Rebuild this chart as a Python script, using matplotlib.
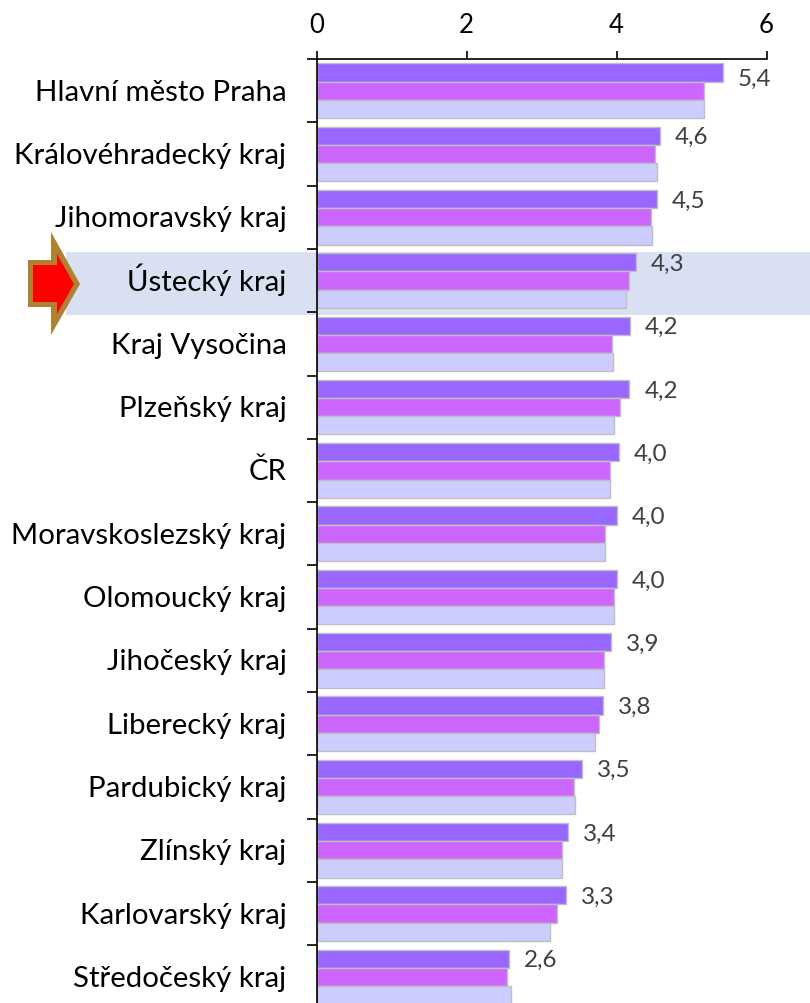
import matplotlib
matplotlib.use("Agg")
import matplotlib.pyplot as plt
import numpy as np
from matplotlib.patches import Polygon, Rectangle

W, H = 810, 1004
regions = ["Hlavní město Praha", "Královéhradecký kraj", "Jihomoravský kraj", "Ústecký kraj",
           "Kraj Vysočina", "Plzeňský kraj", "ČR", "Moravskoslezský kraj", "Olomoucký kraj",
           "Jihočeský kraj", "Liberecký kraj", "Pardubický kraj", "Zlínský kraj",
           "Karlovarský kraj", "Středočeský kraj"]
s1 = [5.42, 4.58, 4.54, 4.26, 4.18, 4.17, 4.03, 4.00, 4.00, 3.93, 3.82, 3.54, 3.35, 3.33, 2.57]
s2 = [5.17, 4.51, 4.46, 4.17, 3.94, 4.05, 3.91, 3.85, 3.97, 3.83, 3.76, 3.43, 3.27, 3.21, 2.54]
s3 = [5.17, 4.54, 4.47, 4.13, 3.95, 3.97, 3.91, 3.85, 3.97, 3.83, 3.71, 3.45, 3.27, 3.11, 2.59]
labels = ["5,4", "4,6", "4,5", "4,3", "4,2", "4,2", "4,0", "4,0", "4,0", "3,9", "3,8", "3,5", "3,4", "3,3", "2,6"]
xticks = [0, 2, 4, 6]

plt.rcParams["font.family"] = ["Lato", "DejaVu Sans"]
fig = plt.figure(figsize=(W / 100, H / 100), dpi=100)

def px(x, y):
    return x / W, 1 - y / H

# highlight band + arrow live on the figure, in pixels
fig.add_artist(Rectangle(px(66, 316), 744 / W, 63 / H, transform=fig.transFigure,
                         fc="#D9E0F1", ec="none", zorder=0))
outer = [(28, 261), (51, 261), (51, 233), (80, 285), (51, 336), (51, 308), (28, 308)]
inner = [(33, 266), (57, 266), (57, 255), (74, 285), (57, 315), (57, 303), (33, 303)]
fig.add_artist(Polygon([px(*p) for p in outer], closed=True, transform=fig.transFigure,
                       fc="#AE8231", ec="none", zorder=1))
fig.add_artist(Polygon([px(*p) for p in inner], closed=True, transform=fig.transFigure,
                       fc="#FF0000", ec="none", zorder=1))

# axes runs past the bottom of the figure, last row is cut off like the original
top, step = 60, 63.3
x0, x1 = px(316.5, top + 15 * step), px(766.5, top)
ax = fig.add_axes([x0[0], x0[1], x1[0] - x0[0], x1[1] - x0[1]], zorder=2)
ax.patch.set_alpha(0)
ax.set_xlim(0, 6)
ax.set_ylim(15, 0)

y = np.arange(len(regions)) + 0.5
h = 0.287
for vals, off, col in [(s1, -h, "#9966FF"), (s2, 0, "#CC66FF"), (s3, h, "#CCCCFF")]:
    ax.barh(y + off, vals, height=h, color=col, edgecolor="#BFBFBF", linewidth=1, zorder=2, clip_on=False)

for i, (v, lab) in enumerate(zip(s1, labels)):
    dy = -6 if i == 0 else -1   # first label sits a bit lower in the original
    ax.annotate(lab, (v, y[i] - h), xytext=(15, dy), textcoords="offset pixels", ha="left", va="center",
                fontsize=17.5, color="#404040", zorder=5)

ax.xaxis.tick_top()
ax.set_xticks(xticks)
ax.set_yticks(np.arange(len(regions) + 1))
ax.set_yticklabels([])
ax.tick_params(axis="x", length=6, width=1.2, pad=10, labelsize=18.5)
ax.tick_params(axis="y", length=7.5, width=1.2)
for i, r in enumerate(regions):
    # baseline so descenders don't shift rows around
    ax.annotate(r, (0, y[i]), xytext=(-30, -9), textcoords="offset pixels", ha="right", va="baseline",
                fontsize=21.2, color="black")
for s in ["right", "bottom"]:
    ax.spines[s].set_visible(False)
for s in ["top", "left"]:
    ax.spines[s].set_linewidth(1.2)
    ax.spines[s].set_zorder(6)

fig.savefig("out.png", dpi=100)
